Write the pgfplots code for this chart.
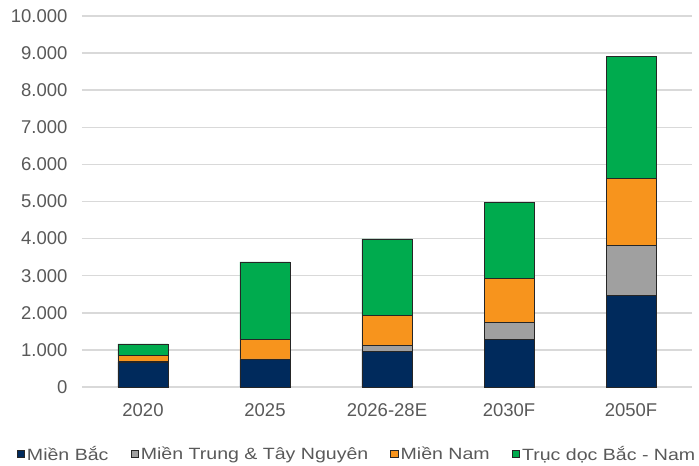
\documentclass[border=0pt]{standalone}
\usepackage{fontspec}
\setmainfont{Liberation Sans}
\newfontfamily\legfont[FakeStretch=1.2]{Liberation Sans}
\usepackage{pgfplots}
\pgfplotsset{compat=1.18}

\definecolor{cBac}{HTML}{002A5C}
\definecolor{cTrung}{HTML}{A0A0A0}
\definecolor{cNam}{HTML}{F7941D}
\definecolor{cTruc}{HTML}{00AB4E}
\definecolor{txt}{HTML}{595959}
\definecolor{grd}{HTML}{D9D9D9}
\definecolor{edge}{HTML}{262626}

\begin{document}
\begin{tikzpicture}
\path[use as bounding box] (-82bp,-79bp) rectangle (617bp,387bp);
\begin{axis}[
  at={(0,0)}, anchor=south west,
  scale only axis,
  width=610bp, height=371bp,
  ybar stacked,
  bar width=50bp,
  xmin=-0.5, xmax=4.5,
  ymin=0, ymax=10000,
  xtick={0,1,2,3,4},
  xticklabels={2020,2025,2026-28E,2030F,2050F},
  ytick={0,1000,...,10000},
  scaled ticks=false,
  axis line style={draw=none},
  major tick length=0pt,
  ymajorgrids,
  grid style={grd, line width=1.5bp},
  /pgf/number format/.cd, 1000 sep={.}, assume math mode=true,
  /pgfplots/.cd,
  tick label style={font=\fontsize{18.5bp}{22bp}\selectfont, text=txt},
  yticklabel style={xshift=-11bp},
  xticklabel style={yshift=-13bp},
  legend columns=4,
  legend style={
    at={(0.5,0)}, anchor=center, xshift=-30bp, yshift=-67bp,
    draw=none, fill=none,
    font=\legfont\fontsize{16.3bp}{19bp}\selectfont, text=txt,
    /tikz/every even column/.append style={column sep=20bp},
    nodes={inner xsep=2bp},
    inner sep=0pt,
  },
  legend image code/.code={
    \draw[#1, line width=0.8bp] (0bp,-3.5bp) rectangle (7.5bp,4bp);
  },
  every axis plot/.append style={draw=edge, line width=0.8bp},
]
\addplot[fill=cBac] coordinates {(0,670) (1,735) (2,970) (3,1285) (4,2470)};
\addplot[fill=cTrung] coordinates {(0,10) (1,20) (2,143) (3,448) (4,1350)};
\addplot[fill=cNam] coordinates {(0,165) (1,530) (2,820) (3,1187) (4,1790)};
\addplot[fill=cTruc] coordinates {(0,315) (1,2085) (2,2057) (3,2060) (4,3290)};
\legend{Miền Bắc, Miền Trung \& Tây Nguyên, Miền Nam, Trục dọc Bắc - Nam}
\end{axis}
\end{tikzpicture}
\end{document}
